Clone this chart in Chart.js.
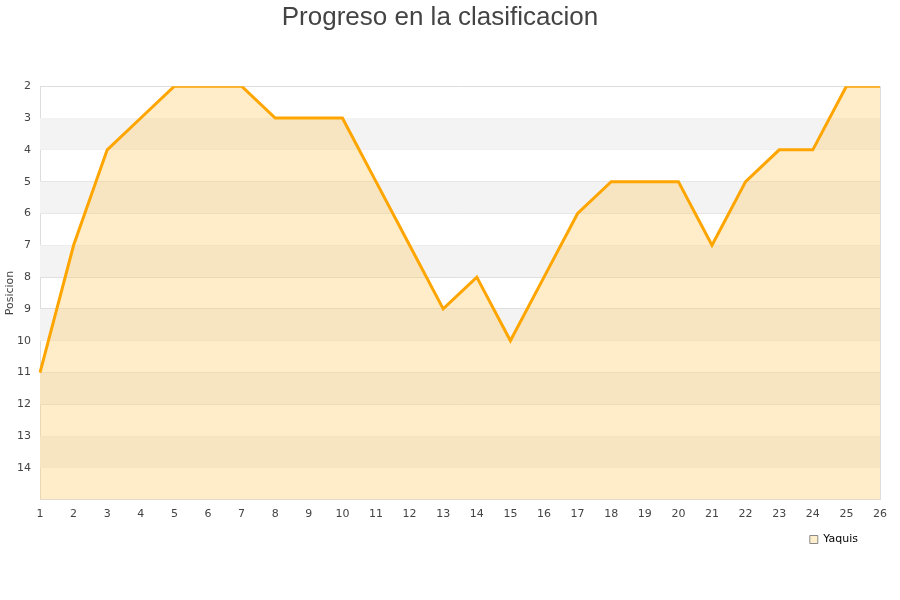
<!DOCTYPE html>
<html><head><meta charset="utf-8">
<script src="https://cdn.jsdelivr.net/npm/chart.js@4/dist/chart.umd.min.js"></script>
<style>html,body{margin:0;padding:0;background:#fff}#wrap{width:900px;height:600px}</style>
</head><body><div id="wrap"><canvas id="c" width="900" height="600"></canvas></div>
<script>
const jornadas = ['1','2','3','4','5','6','7','8','9','10','11','12','13','14','15','16','17','18','19','20','21','22','23','24','25','26'];
const yaquis = [11,7,4,3,2,2,2,3,3,3,5,7,9,8,10,8,6,5,5,5,7,5,4,4,2,2];
const yTicks = [2,3,4,5,6,7,8,9,10,11,12,13,14];

const bands = {
  id:'bands',
  beforeDatasetsDraw(chart){
    const {ctx, chartArea:a, scales:{y}} = chart;
    ctx.save();
    for(let v=2; v<15; v++){
      if((v-2)%2===1){
        const p1=y.getPixelForValue(v), p2=y.getPixelForValue(v+1);
        ctx.fillStyle='#f3f3f3';
        ctx.fillRect(a.left, Math.min(p1,p2), a.right-a.left, Math.abs(p2-p1));
      }
    }
    ctx.restore();
  }
};
const legendShift = {
  id:'legendShift',
  afterLayout(chart){ const l=chart.legend; if(l){ l.left -= 20; l.right -= 20; l.top += 3; l.bottom += 3; } }
};
const rightBorder = {id:'rb', afterDatasetsDraw(chart){const {ctx,chartArea:a}=chart;ctx.save();ctx.strokeStyle='#ddd';ctx.lineWidth=1;ctx.beginPath();ctx.moveTo(a.right+0.5,a.top);ctx.lineTo(a.right+0.5,a.bottom);ctx.stroke();ctx.restore();}};

new Chart(document.getElementById('c'), {
  type:'line',
  data:{labels:jornadas, datasets:[{
    label:'Yaquis', data:yaquis, borderColor:'#ffa500', borderWidth:3,
    backgroundColor:'rgba(255,204,102,0.35)', fill:{value:15}, tension:0, pointRadius:0
  }]},
  options:{
    responsive:false, animation:false,
    layout:{padding:{left:0,right:20,top:0,bottom:48}},
    plugins:{
      title:{display:true, text:'Progreso en la clasificacion', color:'#444',
        font:{family:'Liberation Sans, Arial, sans-serif', size:26, weight:'normal'}, padding:{top:2,bottom:53}},
      legend:{position:'bottom', align:'end',
        labels:{color:'#000', font:{family:'DejaVu Sans', size:11}, boxWidth:8, boxHeight:8, padding:2,
          generateLabels(chart){return [{text:'Yaquis', fillStyle:'#ffeecc', strokeStyle:'#888', lineWidth:1, datasetIndex:0}];}}},
      tooltip:{enabled:false}
    },
    scales:{
      x:{offset:false, grid:{display:false, drawTicks:false}, border:{color:'#ddd'},
        ticks:{color:'#444', font:{family:'DejaVu Sans', size:11}, maxRotation:0, autoSkip:false, padding:8}},
      y:{reverse:true, min:2, max:15, afterBuildTicks(s){s.ticks=yTicks.map(v=>({value:v}));},
        afterFit(s){ s.width = 40; },
        title:{display:true, text:'Posicion', color:'#444', font:{family:'DejaVu Sans', size:11}, padding:{top:4,bottom:0}},
        grid:{color:'#ddd', drawTicks:false}, border:{color:'#ddd'},
        ticks:{color:'#444', font:{family:'DejaVu Sans', size:11}, padding:9}}
    }
  },
  plugins:[bands, rightBorder, legendShift]
});
</script></body></html>
